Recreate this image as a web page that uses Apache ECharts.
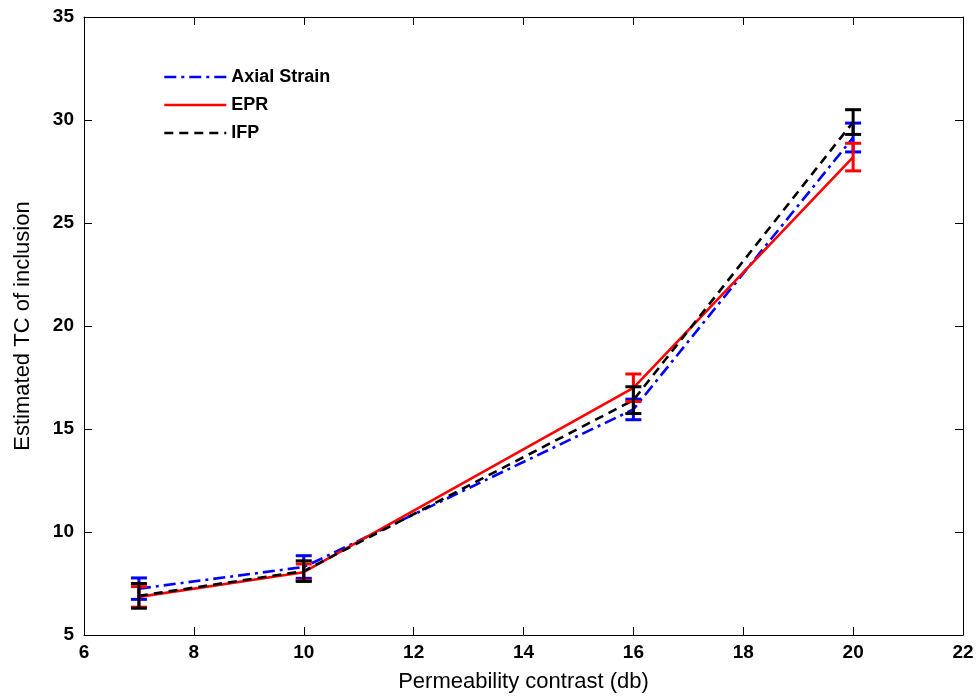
<!DOCTYPE html>
<html><head><meta charset="utf-8">
<script src="https://cdn.jsdelivr.net/npm/echarts@6/dist/echarts.min.js"></script>
<style>html,body{margin:0;padding:0;background:#fff}#c{width:979px;height:700px}</style>
</head><body><div id="c"></div>
<script>
const contrast = [7, 10, 16, 20];
const axialStrain = [7.25, 8.3, 15.95, 29.15];
const axialErr = [0.52, 0.55, 0.5, 0.7];
const epr = [6.85, 8.05, 17.0, 28.2];
const eprErr = [0.5, 0.4, 0.67, 0.67];
const ifp = [6.9, 8.1, 16.4, 29.9];
const ifpErr = [0.6, 0.5, 0.65, 0.6];
const names = ['Axial Strain', 'EPR', 'IFP'];
const colors = ['#0000ff', '#ff0000', '#000000'];

const chart = echarts.init(document.getElementById('c'));
const font = 'Liberation Sans, Arial, sans-serif';

function lineSeries(name, vals, color, type) {
  return {
    name: name, type: 'line', symbol: 'none', z: 3,
    data: contrast.map((x, i) => [x, vals[i]]),
    lineStyle: { color: color, width: 2.6, type: type },
    itemStyle: { color: color }
  };
}
function errSeries(vals, errs, color) {
  return {
    type: 'custom', z: 4, silent: true,
    data: contrast.map((x, i) => [x, vals[i] - errs[i], vals[i] + errs[i]]),
    renderItem: function (params, api) {
      const lo = api.coord([api.value(0), api.value(1)]);
      const hi = api.coord([api.value(0), api.value(2)]);
      const w = 8;
      const st = { stroke: color, lineWidth: 3 };
      return { type: 'group', children: [
        { type: 'line', shape: { x1: lo[0], y1: lo[1], x2: hi[0], y2: hi[1] }, style: st },
        { type: 'line', shape: { x1: lo[0] - w, y1: lo[1], x2: lo[0] + w, y2: lo[1] }, style: st },
        { type: 'line', shape: { x1: hi[0] - w, y1: hi[1], x2: hi[0] + w, y2: hi[1] }, style: st }
      ]};
    }
  };
}
const axisCommon = {
  axisLine: { show: true, onZero: false, lineStyle: { color: '#000', width: 1 } },
  axisTick: { show: true, inside: true, length: 8, lineStyle: { color: '#000' } },
  splitLine: { show: false }
};
chart.setOption({
  animation: false,
  backgroundColor: '#fff',
  grid: { left: 84, right: 16, top: 17, bottom: 65, containLabel: false },
  legend: {
    data: names, orient: 'vertical', left: 158, top: 63, itemGap: 10,
    itemWidth: 62, itemHeight: 18,
    itemStyle: { opacity: 0 },
    lineStyle: { width: 2.6 },
    textStyle: { fontFamily: font, fontSize: 18, fontWeight: 'bold', color: '#000' }
  },
  xAxis: [
    Object.assign({ type: 'value', min: 6, max: 22, interval: 2, position: 'bottom',
      name: 'Permeability contrast (db)', nameLocation: 'middle', nameGap: 36,
      nameTextStyle: { fontFamily: font, fontSize: 22, color: '#000' },
      axisLabel: { fontFamily: font, fontSize: 19, fontWeight: 'bold', color: '#000', margin: 8 } }, axisCommon),
    Object.assign({ type: 'value', min: 6, max: 22, interval: 2, position: 'top',
      axisLabel: { show: false } }, axisCommon)
  ],
  yAxis: [
    Object.assign({ type: 'value', min: 5, max: 35, interval: 5, position: 'left',
      name: 'Estimated TC of inclusion', nameLocation: 'middle', nameGap: 50,
      nameTextStyle: { fontFamily: font, fontSize: 22, color: '#000' },
      axisLabel: { fontFamily: font, fontSize: 19, fontWeight: 'bold', color: '#000', margin: 10 } }, axisCommon),
    Object.assign({ type: 'value', min: 5, max: 35, interval: 5, position: 'right',
      axisLabel: { show: false } }, axisCommon)
  ],
  series: [
    lineSeries(names[0], axialStrain, colors[0], [12, 5, 3, 5]),
    lineSeries(names[1], epr, colors[1], 'solid'),
    lineSeries(names[2], ifp, colors[2], [9, 6]),
    errSeries(axialStrain, axialErr, colors[0]),
    errSeries(epr, eprErr, colors[1]),
    errSeries(ifp, ifpErr, colors[2])
  ]
});
</script></body></html>
